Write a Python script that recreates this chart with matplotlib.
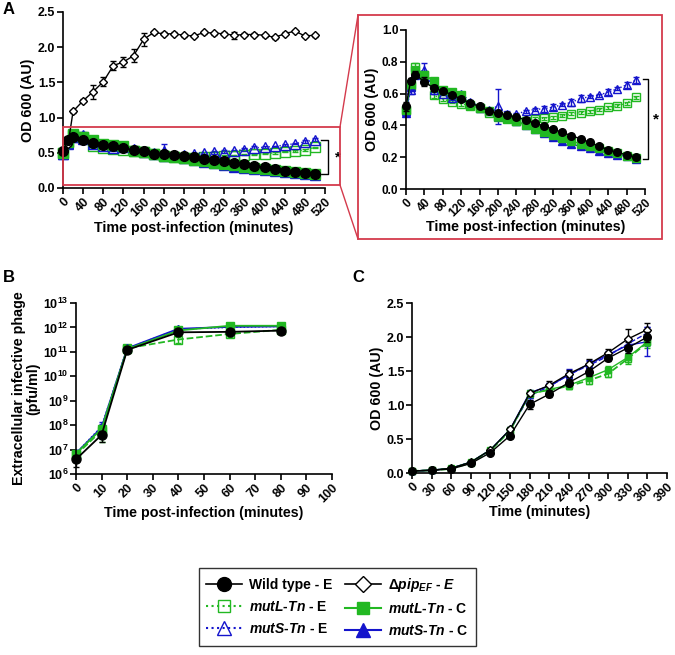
import numpy as np
import matplotlib
matplotlib.use("Agg")
import matplotlib.pyplot as plt
from matplotlib.lines import Line2D
from matplotlib.patches import Rectangle

plt.rcParams['font.family'] = ['Liberation Sans', 'DejaVu Sans']
plt.rcParams['font.weight'] = 'bold'
plt.rcParams['axes.labelweight'] = 'bold'
plt.rcParams['mathtext.fontset'] = 'custom'
plt.rcParams['mathtext.rm'] = 'Liberation Sans:bold'
plt.rcParams['mathtext.bf'] = 'Liberation Sans:bold'
plt.rcParams['mathtext.it'] = 'Liberation Sans:italic:bold'

BLACK = '#000000'
GREEN = '#22b822'
BLUE = '#1414cc'
RED = '#d43a4c'

# ---------------- panel A data ----------------
tA = [0, 10, 20, 40, 60, 80, 100, 120, 140, 160, 180, 200, 220, 240, 260,
      280, 300, 320, 340, 360, 380, 400, 420, 440, 460, 480, 500]
a_wt = [0.52, 0.68, 0.72, 0.675, 0.634, 0.615, 0.594, 0.565, 0.54, 0.52, 0.49,
        0.477, 0.466, 0.452, 0.435, 0.414, 0.397, 0.377, 0.356, 0.335, 0.316,
        0.293, 0.268, 0.247, 0.23, 0.215, 0.20]
a_wt_err = [0.03, 0.02, 0.02, 0.03, 0.02, 0.01, 0.01, 0.01, 0.01, 0.01, 0.01,
            0.01, 0.01, 0.01, 0.01, 0.01, 0.01, 0.01, 0.01, 0.01, 0.01,
            0.01, 0.01, 0.01, 0.01, 0.01, 0.01]
a_dpip = [0.52, 0.62, 1.09, 1.24, 1.37, 1.51, 1.74, 1.79, 1.88, 2.11, 2.21,
          2.19, 2.19, 2.17, 2.16, 2.21, 2.20, 2.19, 2.17, 2.18, 2.18, 2.17,
          2.14, 2.19, 2.23, 2.16, 2.17]
a_dpip_err = [0.02, 0.02, 0.02, 0.02, 0.10, 0.06, 0.07, 0.07, 0.09, 0.09, 0.02,
              0.02, 0.02, 0.02, 0.02, 0.02, 0.02, 0.02, 0.05, 0.02, 0.02, 0.02,
              0.02, 0.02, 0.02, 0.02, 0.02]
a_mutl_e = [0.50, 0.65, 0.77, 0.72, 0.59, 0.565, 0.55, 0.535, 0.525, 0.51, 0.48,
            0.455, 0.445, 0.43, 0.43, 0.44, 0.445, 0.452, 0.46, 0.473, 0.48,
            0.49, 0.50, 0.515, 0.523, 0.54, 0.577]
a_mutl_e_err = [0.02, 0.02, 0.02, 0.02, 0.02, 0.01, 0.01, 0.01, 0.01, 0.01, 0.01,
                0.01, 0.01, 0.01, 0.01, 0.01, 0.01, 0.01, 0.01, 0.01, 0.01,
                0.01, 0.01, 0.01, 0.01, 0.01, 0.01]
a_muts_e = [0.49, 0.62, 0.72, 0.75, 0.62, 0.60, 0.57, 0.60, 0.55, 0.52, 0.50,
            0.52, 0.47, 0.47, 0.49, 0.50, 0.505, 0.515, 0.53, 0.545, 0.57,
            0.58, 0.59, 0.61, 0.63, 0.655, 0.685]
a_muts_e_err = [0.02, 0.02, 0.02, 0.04, 0.02, 0.01, 0.01, 0.01, 0.01, 0.01, 0.01,
                0.11, 0.02, 0.01, 0.01, 0.01, 0.02, 0.02, 0.01, 0.02, 0.02,
                0.01, 0.01, 0.02, 0.01, 0.02, 0.02]
a_mutl_c = [0.50, 0.66, 0.75, 0.72, 0.68, 0.62, 0.61, 0.59, 0.53, 0.51, 0.49,
            0.46, 0.44, 0.43, 0.40, 0.38, 0.36, 0.34, 0.32, 0.30, 0.285,
            0.27, 0.255, 0.24, 0.225, 0.21, 0.195]
a_mutl_c_err = [0.02] * 3 + [0.01] * 24
a_muts_c = [0.48, 0.64, 0.73, 0.70, 0.66, 0.62, 0.60, 0.58, 0.54, 0.51, 0.49,
            0.46, 0.45, 0.43, 0.40, 0.375, 0.35, 0.33, 0.305, 0.28, 0.27,
            0.255, 0.24, 0.225, 0.215, 0.205, 0.19]
a_muts_c_err = [0.02] * 3 + [0.01] * 24

# ---------------- panel B data ----------------
tB = [0, 10, 20, 40, 60, 80]
b_wt = [4e6, 4e7, 1.2e11, 6.3e11, 6.6e11, 7.4e11]
b_wt_err = [2e6, 2e7, 1e10, 5e10, 5e10, 4e10]
b_mutl_e = [6e6, 6e7, 1.4e11, 3.2e11, 5.4e11, 8e11]
b_mutl_e_err = [3e6, 4e7, 1e10, 1e11, 1.5e11, 5e10]
b_mutl_c = [6.8e6, 7.1e7, 1.3e11, 7.5e11, 1.17e12, 1.17e12]
b_mutl_c_err = [2e6, 2e7, 1e10, 5e10, 1e11, 5e10]
b_muts_e = [7e6, 9e7, 1.4e11, 8.5e11, 1.0e12, 1.1e12]
b_muts_e_err = [2e6, 5e7, 1e10, 1e11, 1e11, 5e10]
b_muts_c = [7e6, 8e7, 1.4e11, 8.8e11, 1.05e12, 1.1e12]
b_muts_c_err = [2e6, 3e7, 1e10, 1e11, 1e11, 5e10]
b_exps = [6, 7, 8, 9, 10, 11, 12, 13]

# ---------------- panel C data ----------------
tC = [0, 30, 60, 90, 120, 150, 180, 210, 240, 270, 300, 330, 360]
c_wt = [0.03, 0.04, 0.06, 0.14, 0.30, 0.55, 1.01, 1.16, 1.33, 1.49, 1.69, 1.84, 2.00]
c_wt_err = [0.01, 0.01, 0.01, 0.01, 0.02, 0.03, 0.07, 0.04, 0.05, 0.06, 0.05, 0.08, 0.08]
c_dpip = [0.03, 0.04, 0.07, 0.16, 0.34, 0.64, 1.17, 1.29, 1.46, 1.60, 1.77, 1.97, 2.11]
c_dpip_err = [0.01, 0.01, 0.01, 0.01, 0.02, 0.03, 0.04, 0.07, 0.05, 0.08, 0.05, 0.15, 0.10]
c_mutl_e = [0.03, 0.04, 0.06, 0.15, 0.33, 0.62, 1.17, 1.22, 1.28, 1.36, 1.46, 1.68, 1.92]
c_mutl_e_err = [0.01, 0.01, 0.01, 0.01, 0.02, 0.03, 0.04, 0.04, 0.05, 0.05, 0.05, 0.07, 0.08]
c_mutl_c = [0.03, 0.04, 0.07, 0.16, 0.34, 0.63, 1.16, 1.23, 1.29, 1.40, 1.52, 1.70, 1.93]
c_mutl_c_err = [0.01, 0.01, 0.01, 0.01, 0.02, 0.03, 0.04, 0.04, 0.05, 0.05, 0.05, 0.07, 0.06]
c_muts_e = [0.03, 0.04, 0.07, 0.16, 0.34, 0.63, 1.14, 1.27, 1.45, 1.58, 1.72, 1.90, 2.06]
c_muts_e_err = [0.01, 0.01, 0.01, 0.01, 0.02, 0.03, 0.06, 0.05, 0.08, 0.06, 0.05, 0.07, 0.08]
c_muts_c = [0.03, 0.04, 0.07, 0.16, 0.34, 0.64, 1.18, 1.28, 1.44, 1.60, 1.74, 1.88, 1.93]
c_muts_c_err = [0.01, 0.01, 0.01, 0.01, 0.02, 0.03, 0.04, 0.04, 0.06, 0.06, 0.06, 0.08, 0.21]

W, H = 675, 655
fig = plt.figure(figsize=(W / 100, H / 100), dpi=100)

TICK_FS = 9
LAB_FS = 10.3


def px_axes(l, t, r, b):
    return fig.add_axes([l / W, 1 - b / H, (r - l) / W, (b - t) / H])


def style(ax, xticks, fs=TICK_FS):
    for s in ['top', 'right']:
        ax.spines[s].set_visible(False)
    for s in ['left', 'bottom']:
        ax.spines[s].set_linewidth(1.2)
    ax.tick_params(width=1.2, length=4, labelsize=fs, pad=1.5)
    ax.set_xticks(xticks)
    ax.set_xticklabels([str(v) for v in xticks], rotation=45, ha='right',
                       rotation_mode='anchor', fontweight='bold')
    for lab in ax.get_yticklabels():
        lab.set_fontweight('bold')


def series(ax, t, y, e, color, marker, mfc, ls, ms, lw=1.0, z=2):
    ax.errorbar(t, y, yerr=e, color=color, marker=marker, mfc=mfc, mec=color,
                ms=ms, ls=ls, lw=lw, elinewidth=1.0, capsize=2.5, capthick=1.0,
                zorder=z, clip_on=False)


def panel_a(ax, ms):
    series(ax, tA, a_mutl_e, a_mutl_e_err, GREEN, 's', 'none', ':', ms)
    series(ax, tA, a_muts_e, a_muts_e_err, BLUE, '^', 'none', ':', ms)
    series(ax, tA, a_muts_c, a_muts_c_err, BLUE, '^', BLUE, '-', ms)
    series(ax, tA, a_mutl_c, a_mutl_c_err, GREEN, 's', GREEN, '-', ms)
    series(ax, tA, a_wt, a_wt_err, BLACK, 'o', BLACK, '-', ms, z=4)


def bracket(ax, x, y0, y1, dx, xs):
    ax.plot([x - dx, x, x, x - dx], [y1, y1, y0, y0], color='black', lw=1.0,
            clip_on=False)
    ax.text(xs, (y0 + y1) / 2, '*', fontsize=11, fontweight='bold',
            ha='center', va='center', clip_on=False)


# ---- A main ----
axA = px_axes(63, 12, 325, 188)
series(axA, tA, a_dpip, a_dpip_err, BLACK, 'D', 'white', '-', 4.5, z=3)
panel_a(axA, 7)
axA.set_xlim(0, 520)
axA.set_ylim(0, 2.5)
axA.set_yticks([0, 0.5, 1.0, 1.5, 2.0, 2.5])
axA.set_yticklabels(['0.0', '0.5', '1.0', '1.5', '2.0', '2.5'])
style(axA, list(range(0, 521, 40)))
axA.set_ylabel('OD 600 (AU)', fontsize=LAB_FS, labelpad=2)
axA.set_xlabel('Time post-infection (minutes)', fontsize=LAB_FS, labelpad=1)
bracket(axA, 525, 0.20, 0.68, 12, 545)
axA.add_patch(Rectangle((0, 0.04), 550, 0.83, fill=False, ec=RED, lw=1.3,
                        clip_on=False, zorder=5))

# ---- A inset ----
axI = px_axes(406, 30, 645, 189)
panel_a(axI, 5.5)
axI.set_xlim(0, 520)
axI.set_ylim(0, 1.0)
axI.set_yticks([0, 0.2, 0.4, 0.6, 0.8, 1.0])
axI.set_yticklabels(['0.0', '0.2', '0.4', '0.6', '0.8', '1.0'])
style(axI, list(range(0, 521, 40)), fs=8.5)
axI.set_ylabel('OD 600 (AU)', fontsize=LAB_FS, labelpad=2)
axI.set_xlabel('Time post-infection (minutes)', fontsize=LAB_FS, labelpad=1)
bracket(axI, 526, 0.19, 0.69, 10, 543)

# red zoom frame and connectors
fig.add_artist(Rectangle((358 / W, 1 - 239 / H), (662 - 358) / W, (239 - 15) / H,
                         fill=False, ec=RED, lw=1.3, transform=fig.transFigure))
fig.add_artist(Line2D([340 / W, 358 / W], [1 - 127 / H, 1 - 15 / H], color=RED,
                      lw=1.0, transform=fig.transFigure))
fig.add_artist(Line2D([340 / W, 358 / W], [1 - 185 / H, 1 - 239 / H], color=RED,
                      lw=1.0, transform=fig.transFigure))

# ---- B ----
axB = px_axes(76, 303, 332, 474)
series(axB, tB, b_mutl_e, b_mutl_e_err, GREEN, 's', 'none', '--', 6, lw=1.3)
series(axB, tB, b_muts_e, b_muts_e_err, BLUE, '^', 'none', ':', 6)
series(axB, tB, b_muts_c, b_muts_c_err, BLUE, '^', BLUE, '-', 6, lw=1.3)
series(axB, tB, b_mutl_c, b_mutl_c_err, GREEN, 's', GREEN, '-', 6, lw=1.3)
series(axB, tB, b_wt, b_wt_err, BLACK, 'o', BLACK, '-', 6.5, lw=1.3, z=4)
axB.set_yscale('log')
axB.set_xlim(0, 100)
axB.set_ylim(1e6, 1e13)
axB.set_yticks([10.0 ** e for e in b_exps])
axB.set_yticklabels([r'$\mathbf{10^{%d}}$' % e for e in b_exps])
axB.minorticks_off()
style(axB, list(range(0, 101, 10)))
axB.set_ylabel('Extracellular infective phage\n(pfu/ml)', fontsize=LAB_FS,
               labelpad=2, linespacing=1.0)
axB.set_xlabel('Time post-infection (minutes)', fontsize=LAB_FS, labelpad=1)

# ---- C ----
axC = px_axes(412, 303, 667, 473)
series(axC, tC, c_dpip, c_dpip_err, BLACK, 'D', 'white', '-', 4.5, z=3)
series(axC, tC, c_mutl_e, c_mutl_e_err, GREEN, 's', 'none', '--', 5, lw=1.3)
series(axC, tC, c_muts_e, c_muts_e_err, BLUE, '^', 'none', '--', 5)
series(axC, tC, c_muts_c, c_muts_c_err, BLUE, '^', BLUE, '-', 5)
series(axC, tC, c_mutl_c, c_mutl_c_err, GREEN, 's', GREEN, '-', 5)
series(axC, tC, c_wt, c_wt_err, BLACK, 'o', BLACK, '-', 5.5, z=4)
axC.set_xlim(0, 390)
axC.set_ylim(0, 2.5)
axC.set_yticks([0, 0.5, 1.0, 1.5, 2.0, 2.5])
axC.set_yticklabels(['0.0', '0.5', '1.0', '1.5', '2.0', '2.5'])
style(axC, list(range(0, 391, 30)))
axC.set_ylabel('OD 600 (AU)', fontsize=LAB_FS, labelpad=2)
axC.set_xlabel('Time (minutes)', fontsize=LAB_FS, labelpad=1)

# panel letters
for x, y, s in [(3, 10, 'A'), (3, 277, 'B'), (352, 277, 'C')]:
    fig.text(x / W, 1 - y / H, s, fontsize=12, fontweight='bold', va='center')

# legend
handles = [
    Line2D([], [], color=BLACK, marker='o', mfc=BLACK, ms=10, lw=1.2),
    Line2D([], [], color=GREEN, marker='s', mfc='none', ms=9, ls=':', lw=1.5),
    Line2D([], [], color=BLUE, marker='^', mfc='none', ms=10, ls=':', lw=1.5),
    Line2D([], [], color=BLACK, marker='D', mfc='white', ms=8, lw=1.2),
    Line2D([], [], color=GREEN, marker='s', mfc=GREEN, ms=9, lw=1.5),
    Line2D([], [], color=BLUE, marker='^', mfc=BLUE, ms=10, lw=1.5),
]
labels = [
    'Wild type - E',
    r'$\mathit{mutL}$-$\mathit{Tn}$ - E',
    r'$\mathit{mutS}$-$\mathit{Tn}$ - E',
    r'$\mathit{\Delta pip}_{\mathit{EF}}$ - $\mathit{E}$',
    r'$\mathit{mutL}$-$\mathit{Tn}$ - C',
    r'$\mathit{mutS}$-$\mathit{Tn}$ - C',
]
leg = fig.legend(handles, labels, ncol=2, loc='center',
                 bbox_to_anchor=((202 + 473) / 2 / W, 1 - 607 / H),
                 frameon=True, fancybox=False, edgecolor='black',
                 prop={'size': 10, 'weight': 'bold'}, handlelength=2.6,
                 columnspacing=0.9, labelspacing=0.6, borderpad=0.55,
                 handletextpad=0.5)
leg.get_frame().set_linewidth(1.0)

fig.savefig('out.png', dpi=100)
